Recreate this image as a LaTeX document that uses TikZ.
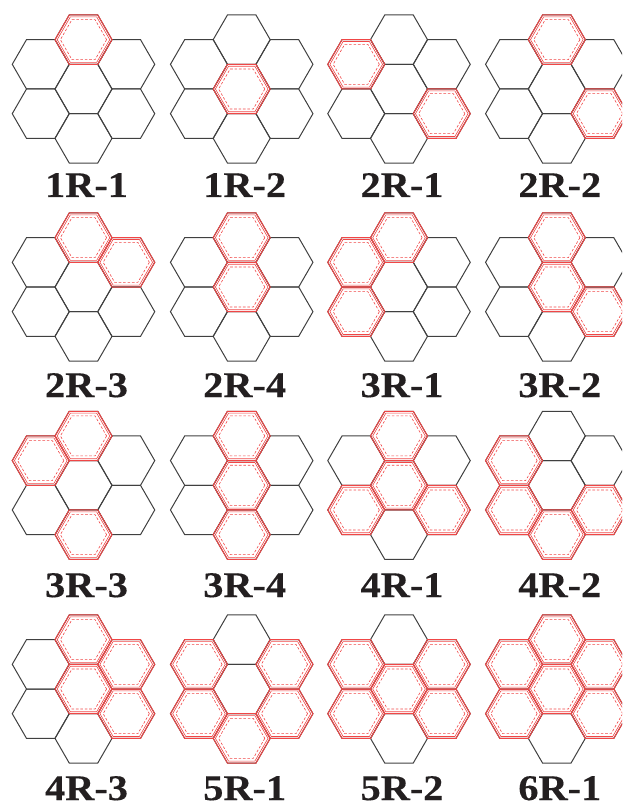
\documentclass[tikz,border=0pt]{standalone}
\usepackage{fontspec}
\setmainfont{Liberation Serif}
\newfontfamily\labfont[FakeStretch=1.12,FakeBold=0.3]{Liberation Serif}
\definecolor{hexred}{RGB}{240,70,70}
\definecolor{hexgrey}{RGB}{64,64,64}
\definecolor{labelcol}{RGB}{35,31,32}
\tikzset{
  hexline/.style={draw=hexgrey, line width=1pt},
  redouter/.style={draw=hexred, line width=1pt},
  redinner/.style={draw=hexred, line width=0.6pt},
  reddash/.style={draw=hexred, line width=0.6pt, dash pattern=on 2.6pt off 1.8pt},
  lab/.style={font=\labfont\bfseries\fontsize{36}{36}\selectfont, text=labelcol, anchor=base, inner sep=0pt}
}
\def\dxC{0}\def\dyC{0}
\def\dxT{0}\def\dyT{-49.36}
\def\dxB{0}\def\dyB{49.36}
\def\dxUL{-42.75}\def\dyUL{-24.68}
\def\dxUR{42.75}\def\dyUR{-24.68}
\def\dxLL{-42.75}\def\dyLL{24.68}
\def\dxLR{42.75}\def\dyLR{24.68}
\newcommand{\hexpath}[4]{%
  \draw[#1] (#2,#3) +(0:#4) -- +(60:#4) -- +(120:#4) -- +(180:#4) -- +(240:#4) -- +(300:#4) -- cycle;}
\newcommand{\redhex}[3]{%
  \pgfmathsetmacro{\hx}{#1+\csname dx#3\endcsname}%
  \pgfmathsetmacro{\hy}{#2+\csname dy#3\endcsname}%
  \hexpath{redouter}{\hx}{\hy}{28.5}%
  \hexpath{redinner}{\hx}{\hy}{26.3}%
  \hexpath{reddash}{\hx}{\hy}{23.1}}
\newcommand{\cluster}[5]{%
  \foreach \p in {C,T,B,UL,UR,LL,LR}{%
    \pgfmathsetmacro{\hx}{#1+\csname dx\p\endcsname}%
    \pgfmathsetmacro{\hy}{#2+\csname dy\p\endcsname}%
    \hexpath{hexline}{\hx}{\hy}{28.5}}%
  \foreach \p in {#3}{\redhex{#1}{#2}{\p}}%
  \node[lab] (lab#5) at (#1+3,#4) {#5};}
\begin{document}
\begin{tikzpicture}[x=1pt,y=-1pt]
\useasboundingbox (0,0) rectangle (622,810);
\clip (0,0) rectangle (622,810);
\cluster{83.5}{89}{T}{197}{1R-1}
\cluster{241.7}{89}{C}{197}{1R-2}
\cluster{399}{89}{UL,LR}{197}{2R-1}
\cluster{556.8}{89}{T,LR}{197}{2R-2}
\cluster{83.5}{287}{T,UR}{397}{2R-3}
\cluster{241.7}{287}{T,C}{397}{2R-4}
\cluster{399}{287}{T,UL,LL}{397}{3R-1}
\cluster{556.8}{287}{T,C,LR}{397}{3R-2}
\cluster{83.5}{485.3}{T,UL,B}{597}{3R-3}
\cluster{241.7}{485.3}{T,C,B}{597}{3R-4}
\cluster{399}{485.3}{T,C,LL,LR}{597}{4R-1}
\cluster{556.8}{485.3}{UL,LL,LR,B}{597}{4R-2}
\cluster{83.5}{689}{T,UR,C,LR}{800}{4R-3}
\cluster{241.7}{689}{UL,UR,LL,LR,B}{800}{5R-1}
\cluster{399}{689}{UL,UR,C,LL,LR}{800}{5R-2}
\cluster{556.8}{689}{T,UL,UR,C,LL,LR}{800}{6R-1}
\end{tikzpicture}
\end{document}
